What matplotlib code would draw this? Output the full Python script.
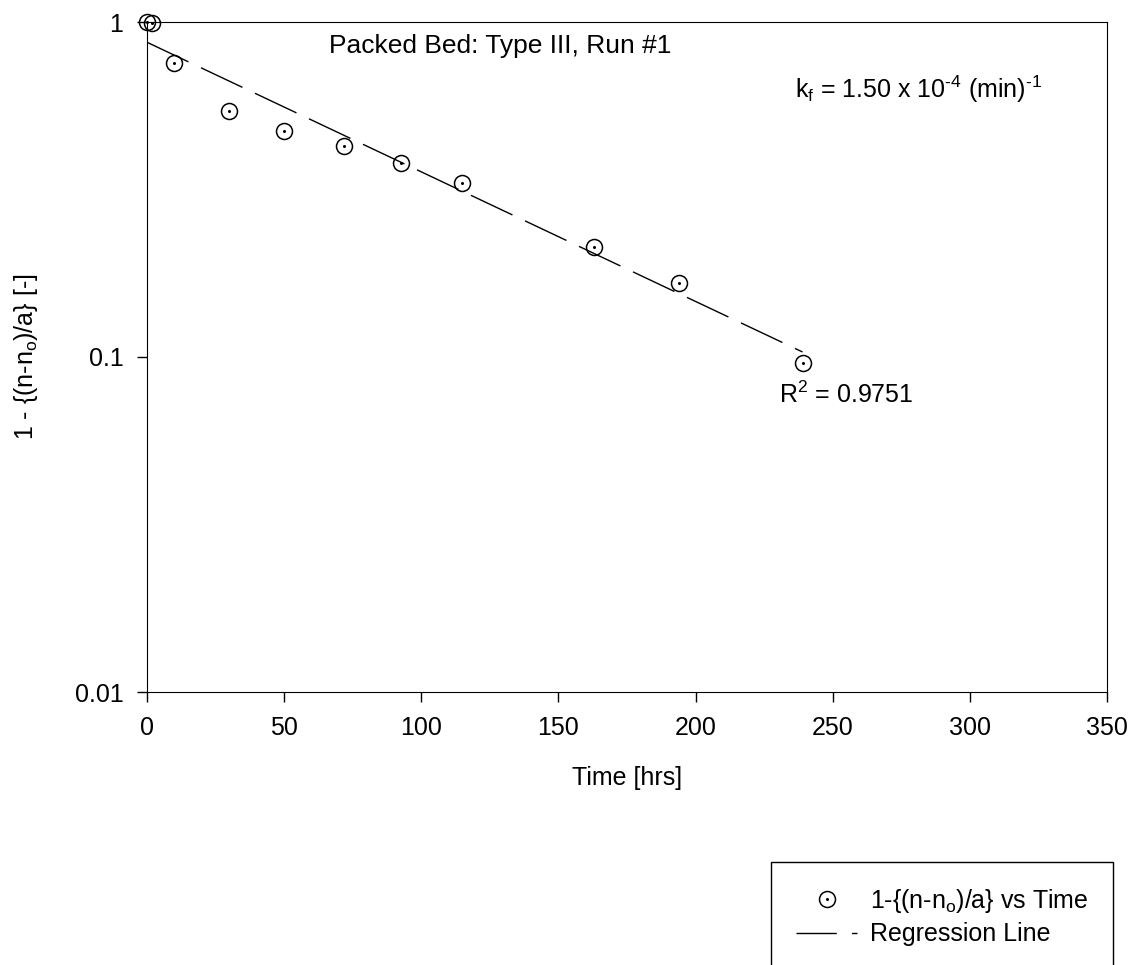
import numpy as np
import matplotlib
matplotlib.use("Agg")
import matplotlib.pyplot as plt
from matplotlib.legend_handler import HandlerTuple
from matplotlib.lines import Line2D

plt.rcParams['font.family'] = ['Liberation Sans', 'DejaVu Sans']
plt.rcParams['mathtext.fontset'] = 'custom'
plt.rcParams['mathtext.rm'] = 'Liberation Sans'
plt.rcParams['mathtext.it'] = 'Liberation Sans'

# data
time_hrs = [0, 1.7, 10, 30, 50, 72, 92.5, 115, 163, 194, 239]
conv = [1.0, 0.991, 0.753, 0.542, 0.473, 0.426, 0.379, 0.331, 0.2135, 0.1666, 0.0958]

# regression line end points
fit_t = [0, 239]
fit_y = [0.87, 0.1035]

xticks = [0, 50, 100, 150, 200, 250, 300, 350]
yticks = [0.01, 0.1, 1]
ytick_labels = ['0.01', '0.1', '1']

fs = 18

fig = plt.figure(figsize=(11.35, 9.65), dpi=100)
ax = fig.add_axes([147/1135, 1-692/965, 960/1135, 670/965])

ax.plot(fit_t, fit_y, color='black', lw=1, dashes=(33, 10))
circ, = ax.plot(time_hrs, conv, ls='none', marker='o', ms=11.5,
                mfc='none', mec='black', mew=1.1, clip_on=False)
dot, = ax.plot(time_hrs, conv, ls='none', marker='o', ms=2.2,
               mfc='black', mec='black', mew=0, clip_on=False)

ax.set_yscale('log')
ax.set_xlim(0, 350)
ax.set_ylim(0.01, 1)
ax.set_xticks(xticks)
ax.set_yticks(yticks)
ax.set_yticklabels(ytick_labels)
ax.minorticks_off()
ax.tick_params(direction='out', length=7, width=1, labelsize=fs, pad=10,
               top=False, right=False)

ax.set_xlabel('Time [hrs]', fontsize=fs, labelpad=19)
ax.set_ylabel('1 - {(n-n$_\\mathrm{o}$)/a} [-]', fontsize=fs, labelpad=25)

ax.text(0.3677, 0.964, 'Packed Bed: Type III, Run #1', transform=ax.transAxes,
        ha='center', va='center', fontsize=19)
ax.text(0.675, 0.9, 'k$_\\mathrm{f}$ = 1.50 x 10$^{\\text{-4}}$ (min)$^{\\text{-1}}$',
        transform=ax.transAxes, ha='left', va='center', fontsize=fs)
ax.text(0.658, 0.443, 'R$^\\mathrm{2}$ = 0.9751', transform=ax.transAxes,
        ha='left', va='center', fontsize=fs)

# legend key for the regression line: long dash then a short piece
reg_key = Line2D([], [], color='black', lw=1, dashes=(29, 11))

leg = fig.legend([(circ, dot), reg_key],
                 ['1-{(n-n$_\\mathrm{o}$)/a} vs Time', 'Regression Line'],
                 handler_map={tuple: HandlerTuple(ndivide=1, pad=0)},
                 numpoints=1,
                 loc='upper left', bbox_to_anchor=(771/1135, 1-862/965),
                 fontsize=fs, frameon=True, fancybox=False, edgecolor='black',
                 framealpha=1, borderpad=1.0, handlelength=2.45,
                 handletextpad=0.5, labelspacing=0.3, borderaxespad=0)
leg.get_frame().set_linewidth(1)

fig.savefig('out.png', dpi=100)
